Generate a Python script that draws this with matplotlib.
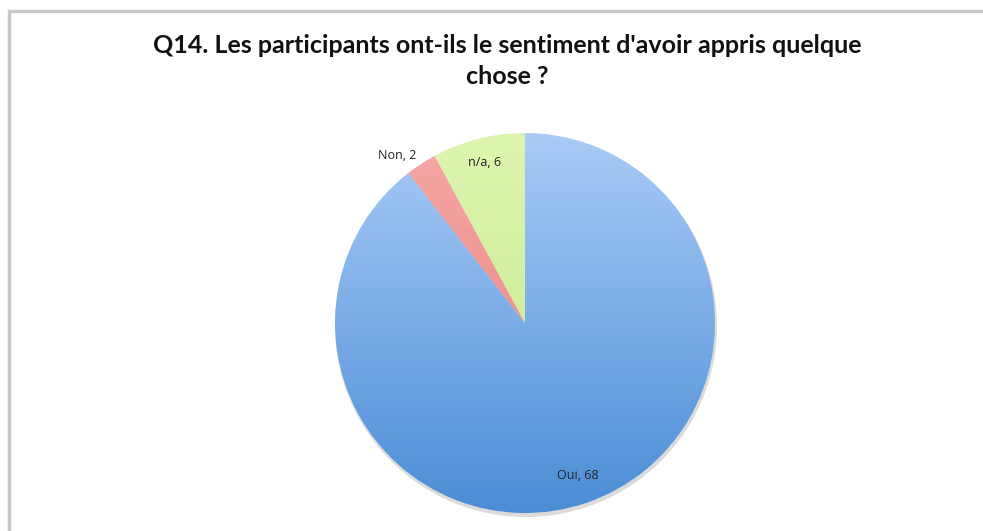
import numpy as np
import matplotlib.pyplot as plt
from matplotlib.colors import LinearSegmentedColormap
from matplotlib.patches import Rectangle

# data
labels = ["Oui", "Non", "n/a"]
values = [68, 2, 6]
# gradient (top, bottom) per slice
grad_colors = [("#a9cbf7", "#4b8dd6"), ("#f5a8a6", "#e97c7a"), ("#def5ae", "#c4e68c")]
label_dist = [0.85, 1.05, 0.87]
label_ha = ["center", "right", "center"]

title = "Q14. Les participants ont-ils le sentiment d'avoir appris quelque\nchose ?"

W, H = 983, 531
fig = plt.figure(figsize=(W / 100, H / 100), dpi=100)
ax = fig.add_axes([0, 0, 1, 1])

# outer frame (cut at right and bottom like the screenshot)
ax.add_patch(Rectangle((9, -5), W, H - 11 + 5, facecolor="white",
                       edgecolor="#c8c8c8", linewidth=2.5, zorder=0))

cx, cy, r = 525, H - 323, 190

# faint shadow
ax.add_patch(plt.Circle((cx + 1, cy - 3), r + 1, color="#999999", alpha=0.35, zorder=1, lw=0))

wedges, _ = ax.pie(values, center=(cx, cy), radius=r, startangle=90,
                   counterclock=False, frame=True,
                   wedgeprops=dict(linewidth=0, zorder=2))
ax.set_xlim(0, W)
ax.set_ylim(0, H)
ax.set_aspect("equal")
ax.axis("off")

grad = np.linspace(0, 1, 256).reshape(-1, 1)
for w, (c_top, c_bot) in zip(wedges, grad_colors):
    w.set_facecolor("none")
    cmap = LinearSegmentedColormap.from_list("g", [c_top, c_bot])
    im = ax.imshow(grad, cmap=cmap, extent=(cx - r, cx + r, cy - r, cy + r),
                   origin="upper", aspect="auto", zorder=3)
    im.set_clip_path(w)

for w, lab, v, d, ha in zip(wedges, labels, values, label_dist, label_ha):
    ang = np.deg2rad((w.theta1 + w.theta2) / 2)
    ax.text(cx + d * r * np.cos(ang), cy + d * r * np.sin(ang), f"{lab}, {v}",
            ha=ha, va="center", fontsize=9, color="#222222",
            family="Open Sans", zorder=5)

fig.text(507 / W, 1 - 61 / H, title, ha="center", va="center", fontsize=18,
         fontweight="bold", family="Lato", color="#111111", linespacing=1.4,
         multialignment="center")

fig.savefig("out.png", dpi=100)
